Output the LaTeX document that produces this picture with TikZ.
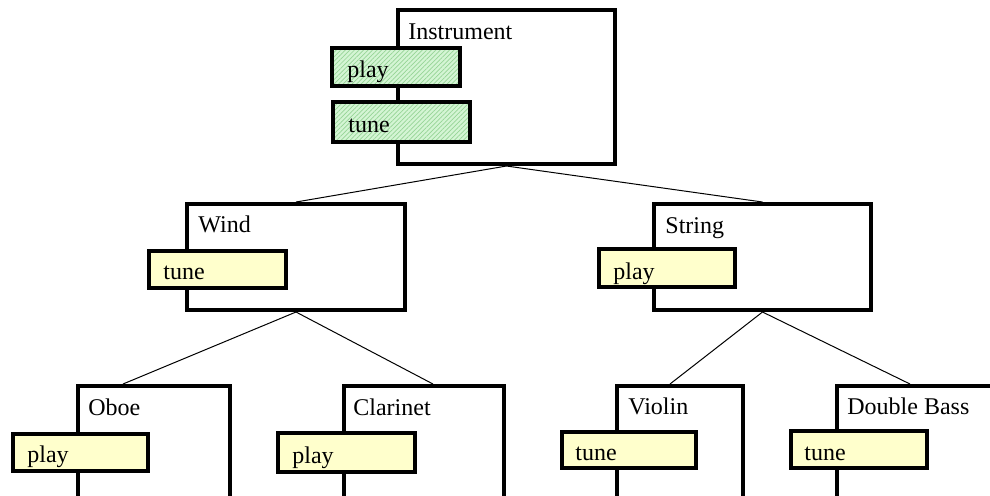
\documentclass[tikz,border=0pt]{standalone}
\usepackage{fontspec}
\setmainfont{Liberation Serif}
\usetikzlibrary{calc,patterns.meta}

\definecolor{methodyellow}{RGB}{255,255,204}
\definecolor{abstractgreen}{RGB}{212,245,212}
\definecolor{hatchgreen}{RGB}{150,212,150}

\tikzset{
  cls/.style={draw, line width=2pt, fill=white, anchor=north west, inner sep=0pt, outer sep=1pt},
  mth/.style={draw, line width=2pt, anchor=north west, inner sep=0pt, outer sep=1pt},
  ymth/.style={mth, fill=methodyellow},
  gmth/.style={mth, preaction={fill=abstractgreen},
    pattern={Lines[angle=45, distance=1.6pt, line width=0.35pt]}, pattern color=hatchgreen},
  lbl/.style={anchor=base west, inner sep=0pt, font=\fontsize{12}{14}\selectfont},
  link/.style={line width=0.5pt}
}

\begin{document}
\begin{tikzpicture}[x=0.5pt, y=-0.5pt]
\useasboundingbox (0,0) rectangle (990,495);
\clip (0,0) rectangle (990,495);

% class boxes
\node[cls, minimum width=108.5pt, minimum height=77pt] (instrument) at (396,8) {};
\node[cls, minimum width=109pt, minimum height=53pt] (wind) at (185,202) {};
\node[cls, minimum width=108.5pt, minimum height=53pt] (string) at (652,202) {};
\node[cls, minimum width=76pt, minimum height=150pt] (oboe) at (76,384) {};
\node[cls, minimum width=80pt, minimum height=150pt] (clarinet) at (342,384) {};
\node[cls, minimum width=63pt, minimum height=150pt] (violin) at (615,384) {};
\node[cls, minimum width=200pt, minimum height=150pt] (bass) at (835,384) {};

% inheritance links
\draw[link] (instrument.south) -- (wind.north);
\draw[link] (instrument.south) -- (string.north);
\draw[link] (wind.south) -- ([xshift=23.5pt]oboe.north west);
\draw[link] (wind.south) -- ([xshift=45.5pt]clarinet.north west);
\draw[link] (string.south) -- ([xshift=27.5pt]violin.north west);
\draw[link] (string.south) -- ([xshift=37.5pt]bass.north west);

% class names
\node[lbl] (instrumentname) at ($(instrument.north west)+(12,31)$) {Instrument};
\node[lbl] (windname) at ($(wind.north west)+(13,30)$) {Wind};
\node[lbl] (stringname) at ($(string.north west)+(13,31)$) {String};
\node[lbl] (oboename) at ($(oboe.north west)+(12,31)$) {Oboe};
\node[lbl] (clarinetname) at ($(clarinet.north west)+(11,31)$) {Clarinet};
\node[lbl] (violinname) at ($(violin.north west)+(13,30)$) {Violin};
\node[lbl] (bassname) at ($(bass.north west)+(12,30)$) {Double Bass};

% abstract methods
\node[gmth, minimum width=64pt, minimum height=19pt] (iplay) at (330,46) {};
\node[gmth, minimum width=68.5pt, minimum height=20pt] (itune) at (331,100) {};

% overriding methods
\node[ymth, minimum width=68.5pt, minimum height=18.5pt] (wtune) at (147,249) {};
\node[ymth, minimum width=68pt, minimum height=19pt] (splay) at (597,247) {};
\node[ymth, minimum width=67.5pt, minimum height=18.5pt] (oplay) at (11,432) {};
\node[ymth, minimum width=68.5pt, minimum height=19.5pt] (cplay) at (276,431) {};
\node[ymth, minimum width=67pt, minimum height=18pt] (vtune) at (560,430) {};
\node[ymth, minimum width=68pt, minimum height=18.5pt] (btune) at (789,429) {};

% method names
\node[lbl] at ($(iplay.south west)+(17,-11)$) {play};
\node[lbl] at ($(itune.south west)+(17,-12)$) {tune};
\node[lbl] at ($(wtune.south west)+(16,-11)$) {tune};
\node[lbl] at ($(splay.south west)+(16,-10)$) {play};
\node[lbl] at ($(oplay.south west)+(16,-11)$) {play};
\node[lbl] at ($(cplay.south west)+(16,-11)$) {play};
\node[lbl] at ($(vtune.south west)+(15,-10)$) {tune};
\node[lbl] at ($(btune.south west)+(15,-10)$) {tune};
\end{tikzpicture}
\end{document}
